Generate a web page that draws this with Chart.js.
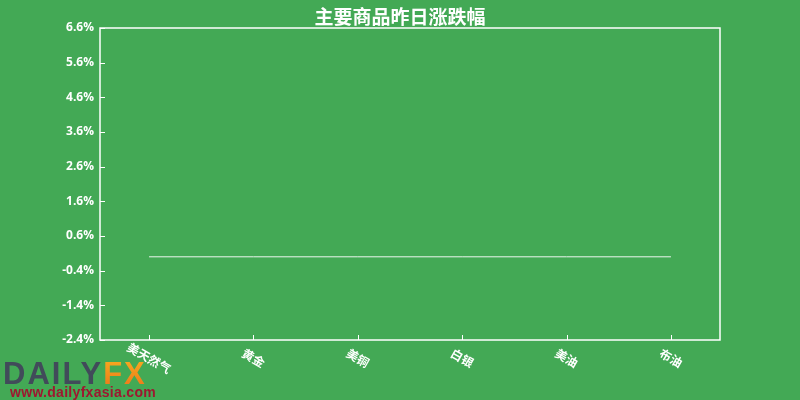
<!DOCTYPE html>
<html lang="zh">
<head>
    <meta charset="UTF-8">
    <title>主要商品昨日涨跌幅</title>
    <script src="https://cdn.jsdelivr.net/npm/chart.js"></script>
    <style>
        html, body { margin: 0; padding: 0; background: #43a955; }
        #wrap { width: 800px; height: 400px; }
    </style>
</head>
<body>
    <div id="wrap"><canvas id="chart" width="800" height="400"></canvas></div>

    <script>
        // data
        var categories = ['美天然气', '黄金', '美铜', '白银', '美油', '布油'];
        var changes = [0, 0, 0, 0, 0, 0];
        var yMin = -2.4, yMax = 6.6, yStep = 1;
        var chartTitle = '主要商品昨日涨跌幅';

        var bg = '#43a955';

        // frame, inward tick marks, rotated x labels, title and logo
        var decor = {
            id: 'decor',
            beforeDraw: function (chart) {
                var c = chart.ctx;
                c.save();
                c.fillStyle = bg;
                c.fillRect(0, 0, chart.width, chart.height);
                c.restore();
            },
            afterDraw: function (chart) {
                var c = chart.ctx, a = chart.chartArea;
                var xs = chart.scales.x, ys = chart.scales.y;
                c.save();

                // logo
                c.textBaseline = 'alphabetic';
                c.textAlign = 'left';
                c.letterSpacing = '2px';
                c.font = 'bold 31px "Liberation Sans", sans-serif';
                c.fillStyle = '#414b5a';
                c.fillText('DAILY', 3, 384);
                var w = c.measureText('DAILY').width;
                var grad = c.createLinearGradient(0, 362, 0, 385);
                grad.addColorStop(0, '#f7a51f');
                grad.addColorStop(1, '#ee7d1a');
                c.fillStyle = grad;
                c.fillText('FX', 3 + w, 384);
                c.letterSpacing = '0.3px';
                c.font = 'bold 14px "Liberation Sans", sans-serif';
                c.fillStyle = '#9e1730';
                c.fillText('www.dailyfxasia.com', 10, 397);

                // frame
                c.strokeStyle = '#ffffff';
                c.lineWidth = 1.5;
                c.strokeRect(a.left, a.top, a.right - a.left, a.bottom - a.top);

                // tick marks pointing inside
                c.lineWidth = 1;
                c.beginPath();
                ys.ticks.forEach(function (t, i) {
                    var y = Math.round(ys.getPixelForTick(i)) + 0.5;
                    c.moveTo(a.left, y);
                    c.lineTo(a.left + 5, y);
                });
                categories.forEach(function (name, i) {
                    var x = Math.round(xs.getPixelForValue(i)) + 0.5;
                    c.moveTo(x, a.bottom);
                    c.lineTo(x, a.bottom - 5);
                });
                c.stroke();

                // x labels, rotated clockwise around their centre
                c.letterSpacing = '0px';
                c.fillStyle = '#ffffff';
                c.font = 'bold 12px "Noto Sans CJK SC", sans-serif';
                c.textAlign = 'center';
                c.textBaseline = 'middle';
                categories.forEach(function (name, i) {
                    var x = xs.getPixelForValue(i);
                    c.save();
                    c.translate(x, a.bottom + 18);
                    c.rotate(Math.PI / 6);
                    c.fillText(name, 0, 0);
                    c.restore();
                });

                // title
                c.font = 'bold 19px "Noto Sans CJK SC", sans-serif';
                c.fillText(chartTitle, 400, 17);

                c.restore();
            }
        };

        var points = categories.map(function (name, i) {
            return { x: i, y: changes[i] };
        });

        var ctx = document.getElementById('chart').getContext('2d');
        var chart = new Chart(ctx, {
            type: 'line',
            data: {
                datasets: [{
                    label: chartTitle,
                    data: points,
                    borderColor: 'rgba(255,255,255,0.9)',
                    borderWidth: 1,
                    pointRadius: 0,
                    fill: false,
                    tension: 0
                }]
            },
            options: {
                responsive: false,
                animation: false,
                layout: { padding: { top: 28, right: 80, bottom: 0, left: 0 } },
                plugins: {
                    legend: { display: false },
                    title: { display: false },
                    tooltip: { enabled: false }
                },
                scales: {
                    x: {
                        type: 'linear',
                        min: -0.47,
                        max: categories.length - 1 + 0.47,
                        grid: { display: false },
                        border: { display: false },
                        ticks: { display: false },
                        afterFit: function (s) { s.height = 60; }
                    },
                    y: {
                        min: yMin,
                        max: yMax,
                        grid: { display: false, drawTicks: false },
                        border: { display: false },
                        ticks: {
                            stepSize: yStep,
                            color: '#ffffff',
                            padding: 6,
                            font: { family: '"Open Sans", sans-serif', size: 12, weight: 'bold' },
                            callback: function (v) { return (Math.round(v * 10) / 10).toFixed(1) + '%'; }
                        },
                        afterFit: function (s) { s.width = 100; }
                    }
                }
            },
            plugins: [decor]
        });
    </script>
</body>
</html>
